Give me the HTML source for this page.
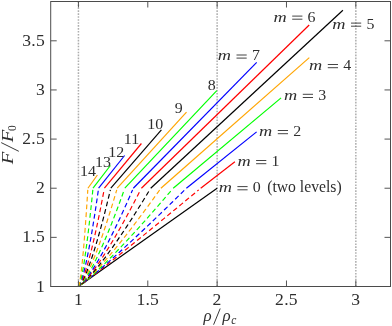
<!DOCTYPE html>
<html><head><meta charset="utf-8"><title>F/F0 vs rho/rho_c</title>
<style>
html,body{margin:0;padding:0;background:#fff;}
svg{display:block;font-family:"Liberation Serif",serif;font-size:17px;fill:#2e2e2e;}
</style></head>
<body>
<svg width="392" height="326" viewBox="0 0 392 326">
<defs><filter id="soft" x="0" y="0" width="392" height="326" filterUnits="userSpaceOnUse"><feGaussianBlur stdDeviation="0.45"/></filter></defs>
<rect x="0" y="0" width="392" height="326" fill="#fff"/>
<g filter="url(#soft)">
<rect x="0" y="0" width="392" height="326" fill="#fff"/>
<g stroke="#adadad" stroke-width="1.5" stroke-dasharray="1.6 1.35" fill="none">
<path d="M78.44 1.5V286.5"/>
<path d="M217.13 1.5V286.5"/>
<path d="M355.83 1.5V286.5"/>
</g>
<g fill="none" stroke-width="1.18" stroke-linecap="butt" stroke-linejoin="round">
<path d="M78.44 286.50L217.13 188.22" stroke="#000"/>
<path d="M78.44 286.50L81.83 284.08L85.07 281.67L88.25 279.25L91.40 276.84L94.53 274.42L97.63 272.01L100.72 269.59L103.79 267.18L106.85 264.76L109.89 262.35L112.93 259.93L115.96 257.52L118.98 255.10L121.99 252.69L125.00 250.27L128.00 247.86L130.99 245.44L133.98 243.03L136.96 240.61L139.94 238.20L142.91 235.78L145.88 233.37L148.84 230.95L151.80 228.54L154.76 226.12L157.71 223.71L160.66 221.29L163.60 218.88L166.54 216.46L169.48 214.05L172.41 211.63L175.34 209.22L178.27 206.80L181.20 204.39L184.12 201.97L187.04 199.56L189.95 197.14L192.87 194.73L195.78 192.31L198.69 189.89" stroke="#ff0000" stroke-dasharray="4.8 3" stroke-dashoffset="3.5"/>
<path d="M200.70 188.22L234.90 161.70" stroke="#ff0000"/>
<path d="M78.44 286.50L82.00 284.08L85.19 281.67L88.24 279.25L91.21 276.84L94.12 274.42L96.98 272.01L99.81 269.59L102.60 267.18L105.37 264.76L108.11 262.35L110.83 259.93L113.53 257.52L116.22 255.10L118.88 252.69L121.53 250.27L124.17 247.86L126.79 245.44L129.41 243.03L132.01 240.61L134.59 238.20L137.17 235.78L139.74 233.37L142.30 230.95L144.85 228.54L147.40 226.12L149.93 223.71L152.46 221.29L154.98 218.88L157.49 216.46L159.99 214.05L162.49 211.63L164.98 209.22L167.47 206.80L169.95 204.39L172.42 201.97L174.89 199.56L177.35 197.14L179.81 194.73L182.26 192.31L184.71 189.89" stroke="#0000ff" stroke-dasharray="4.8 3" stroke-dashoffset="2.2"/>
<path d="M186.40 188.22L256.60 131.90" stroke="#0000ff"/>
<path d="M78.44 286.50L82.07 284.08L85.13 281.67L87.99 279.25L90.75 276.84L93.42 274.42L96.02 272.01L98.58 269.59L101.09 267.18L103.56 264.76L106.00 262.35L108.41 259.93L110.80 257.52L113.16 255.10L115.50 252.69L117.82 250.27L120.12 247.86L122.40 245.44L124.67 243.03L126.92 240.61L129.16 238.20L131.39 235.78L133.60 233.37L135.80 230.95L137.99 228.54L140.16 226.12L142.33 223.71L144.49 221.29L146.64 218.88L148.78 216.46L150.91 214.05L153.03 211.63L155.14 209.22L157.25 206.80L159.34 204.39L161.43 201.97L163.52 199.56L165.59 197.14L167.66 194.73L169.72 192.31L171.78 189.89" stroke="#00ff00" stroke-dasharray="4.8 3" stroke-dashoffset="4.4"/>
<path d="M173.20 188.22L281.10 97.90" stroke="#00ff00"/>
<path d="M78.44 286.50L82.03 284.08L84.89 281.67L87.53 279.25L90.04 276.84L92.45 274.42L94.78 272.01L97.05 269.59L99.28 267.18L101.46 264.76L103.61 262.35L105.72 259.93L107.80 257.52L109.86 255.10L111.89 252.69L113.90 250.27L115.89 247.86L117.86 245.44L119.81 243.03L121.75 240.61L123.67 238.20L125.57 235.78L127.46 233.37L129.34 230.95L131.21 228.54L133.06 226.12L134.90 223.71L136.73 221.29L138.55 218.88L140.36 216.46L142.16 214.05L143.96 211.63L145.74 209.22L147.51 206.80L149.28 204.39L151.04 201.97L152.79 199.56L154.53 197.14L156.26 194.73L157.99 192.31L159.71 189.89" stroke="#ffa500" stroke-dasharray="4.8 3" stroke-dashoffset="3.1"/>
<path d="M160.90 188.22L309.30 57.60" stroke="#ffa500"/>
<path d="M78.44 286.50L81.95 284.08L84.62 281.67L87.04 279.25L89.31 276.84L91.49 274.42L93.58 272.01L95.61 269.59L97.59 267.18L99.52 264.76L101.42 262.35L103.28 259.93L105.11 257.52L106.91 255.10L108.68 252.69L110.43 250.27L112.17 247.86L113.88 245.44L115.57 243.03L117.24 240.61L118.90 238.20L120.55 235.78L122.18 233.37L123.79 230.95L125.40 228.54L126.99 226.12L128.57 223.71L130.14 221.29L131.70 218.88L133.24 216.46L134.78 214.05L136.31 211.63L137.83 209.22L139.34 206.80L140.84 204.39L142.34 201.97L143.82 199.56L145.30 197.14L146.77 194.73L148.24 192.31L149.70 189.89" stroke="#000000" stroke-dasharray="4.8 3" stroke-dashoffset="3.0"/>
<path d="M150.70 188.22L342.90 10.20" stroke="#000000"/>
<path d="M78.44 286.50L81.79 284.08L84.24 281.67L86.43 279.25L88.48 276.84L90.42 274.42L92.28 272.01L94.07 269.59L95.82 267.18L97.51 264.76L99.17 262.35L100.80 259.93L102.39 257.52L103.96 255.10L105.50 252.69L107.02 250.27L108.52 247.86L109.99 245.44L111.45 243.03L112.90 240.61L114.33 238.20L115.74 235.78L117.14 233.37L118.52 230.95L119.90 228.54L121.26 226.12L122.61 223.71L123.95 221.29L125.28 218.88L126.59 216.46L127.90 214.05L129.20 211.63L130.50 209.22L131.78 206.80L133.05 204.39L134.32 201.97L135.58 199.56L136.83 197.14L138.08 194.73L139.32 192.31L140.55 189.89" stroke="#ff0000" stroke-dasharray="4.8 3" stroke-dashoffset="1.2"/>
<path d="M141.40 188.22L309.20 25.00" stroke="#ff0000"/>
<path d="M78.44 286.50L81.60 284.08L83.83 281.67L85.81 279.25L87.63 276.84L89.36 274.42L91.00 272.01L92.59 269.59L94.12 267.18L95.61 264.76L97.06 262.35L98.48 259.93L99.86 257.52L101.23 255.10L102.57 252.69L103.88 250.27L105.18 247.86L106.46 245.44L107.72 243.03L108.96 240.61L110.19 238.20L111.41 235.78L112.61 233.37L113.80 230.95L114.97 228.54L116.14 226.12L117.30 223.71L118.44 221.29L119.58 218.88L120.71 216.46L121.82 214.05L122.93 211.63L124.03 209.22L125.13 206.80L126.21 204.39L127.29 201.97L128.36 199.56L129.43 197.14L130.48 194.73L131.54 192.31L132.58 189.89" stroke="#0000ff" stroke-dasharray="4.8 3" stroke-dashoffset="1.2"/>
<path d="M133.30 188.22L256.70 62.40" stroke="#0000ff"/>
<path d="M78.44 286.50L81.30 284.08L83.26 281.67L84.98 279.25L86.56 276.84L88.04 274.42L89.45 272.01L90.80 269.59L92.10 267.18L93.37 264.76L94.60 262.35L95.79 259.93L96.97 257.52L98.11 255.10L99.24 252.69L100.35 250.27L101.44 247.86L102.51 245.44L103.56 243.03L104.60 240.61L105.63 238.20L106.65 235.78L107.65 233.37L108.64 230.95L109.62 228.54L110.59 226.12L111.56 223.71L112.51 221.29L113.45 218.88L114.39 216.46L115.31 214.05L116.23 211.63L117.14 209.22L118.05 206.80L118.95 204.39L119.84 201.97L120.72 199.56L121.60 197.14L122.48 194.73L123.34 192.31L124.21 189.89" stroke="#00ff00" stroke-dasharray="4.8 3" stroke-dashoffset="0.8"/>
<path d="M124.80 188.22L216.80 90.60" stroke="#00ff00"/>
<path d="M78.44 286.50L80.99 284.08L82.68 281.67L84.16 279.25L85.50 276.84L86.76 274.42L87.95 272.01L89.09 269.59L90.18 267.18L91.24 264.76L92.27 262.35L93.28 259.93L94.26 257.52L95.21 255.10L96.15 252.69L97.07 250.27L97.97 247.86L98.86 245.44L99.74 243.03L100.60 240.61L101.45 238.20L102.29 235.78L103.12 233.37L103.94 230.95L104.75 228.54L105.55 226.12L106.34 223.71L107.12 221.29L107.90 218.88L108.67 216.46L109.43 214.05L110.18 211.63L110.93 209.22L111.67 206.80L112.41 204.39L113.14 201.97L113.87 199.56L114.59 197.14L115.30 194.73L116.01 192.31L116.72 189.89" stroke="#ffa500" stroke-dasharray="4.8 3" stroke-dashoffset="0.3"/>
<path d="M117.20 188.22L186.50 112.20" stroke="#ffa500"/>
<path d="M78.44 286.50L80.70 284.08L82.16 281.67L83.42 279.25L84.56 276.84L85.62 274.42L86.63 272.01L87.58 269.59L88.50 267.18L89.39 264.76L90.25 262.35L91.09 259.93L91.91 257.52L92.70 255.10L93.48 252.69L94.25 250.27L95.00 247.86L95.73 245.44L96.46 243.03L97.17 240.61L97.87 238.20L98.57 235.78L99.25 233.37L99.92 230.95L100.59 228.54L101.25 226.12L101.90 223.71L102.54 221.29L103.18 218.88L103.81 216.46L104.44 214.05L105.06 211.63L105.67 209.22L106.28 206.80L106.88 204.39L107.48 201.97L108.08 199.56L108.66 197.14L109.25 194.73L109.83 192.31L110.40 189.89" stroke="#000000" stroke-dasharray="4.8 3" stroke-dashoffset="0.3"/>
<path d="M110.80 188.22L161.40 129.80" stroke="#000000"/>
<path d="M78.44 286.50L80.36 284.08L81.57 281.67L82.60 279.25L83.53 276.84L84.40 274.42L85.21 272.01L85.98 269.59L86.73 267.18L87.44 264.76L88.13 262.35L88.80 259.93L89.46 257.52L90.09 255.10L90.71 252.69L91.32 250.27L91.92 247.86L92.51 245.44L93.08 243.03L93.65 240.61L94.21 238.20L94.76 235.78L95.30 233.37L95.83 230.95L96.36 228.54L96.88 226.12L97.40 223.71L97.90 221.29L98.41 218.88L98.91 216.46L99.40 214.05L99.89 211.63L100.37 209.22L100.85 206.80L101.32 204.39L101.79 201.97L102.26 199.56L102.72 197.14L103.18 194.73L103.64 192.31L104.09 189.89" stroke="#ff0000" stroke-dasharray="4.8 3" stroke-dashoffset="0.3"/>
<path d="M104.40 188.22L141.40 143.50" stroke="#ff0000"/>
<path d="M78.44 286.50L80.03 284.08L81.00 281.67L81.82 279.25L82.55 276.84L83.23 274.42L83.87 272.01L84.47 269.59L85.05 267.18L85.61 264.76L86.14 262.35L86.66 259.93L87.17 257.52L87.66 255.10L88.14 252.69L88.61 250.27L89.07 247.86L89.52 245.44L89.97 243.03L90.40 240.61L90.83 238.20L91.25 235.78L91.67 233.37L92.08 230.95L92.48 228.54L92.88 226.12L93.27 223.71L93.66 221.29L94.04 218.88L94.42 216.46L94.80 214.05L95.17 211.63L95.54 209.22L95.90 206.80L96.26 204.39L96.62 201.97L96.98 199.56L97.33 197.14L97.68 194.73L98.02 192.31L98.36 189.89" stroke="#0000ff" stroke-dasharray="4.8 3" stroke-dashoffset="0.3"/>
<path d="M98.60 188.22L124.60 155.50" stroke="#0000ff"/>
<path d="M78.44 286.50L79.67 284.08L80.39 281.67L81.00 279.25L81.54 276.84L82.03 274.42L82.50 272.01L82.94 269.59L83.36 267.18L83.76 264.76L84.15 262.35L84.52 259.93L84.89 257.52L85.24 255.10L85.58 252.69L85.92 250.27L86.25 247.86L86.57 245.44L86.89 243.03L87.20 240.61L87.50 238.20L87.80 235.78L88.10 233.37L88.39 230.95L88.68 228.54L88.96 226.12L89.24 223.71L89.51 221.29L89.79 218.88L90.05 216.46L90.32 214.05L90.58 211.63L90.84 209.22L91.10 206.80L91.36 204.39L91.61 201.97L91.86 199.56L92.10 197.14L92.35 194.73L92.59 192.31L92.83 189.89" stroke="#00ff00" stroke-dasharray="4.8 3" stroke-dashoffset="0.3"/>
<path d="M93.00 188.22L110.40 165.50" stroke="#00ff00"/>
<path d="M78.44 286.50L79.30 284.08L79.79 281.67L80.19 279.25L80.55 276.84L80.88 274.42L81.18 272.01L81.47 269.59L81.74 267.18L82.01 264.76L82.26 262.35L82.50 259.93L82.73 257.52L82.96 255.10L83.18 252.69L83.40 250.27L83.61 247.86L83.82 245.44L84.02 243.03L84.22 240.61L84.42 238.20L84.61 235.78L84.80 233.37L84.98 230.95L85.16 228.54L85.34 226.12L85.52 223.71L85.70 221.29L85.87 218.88L86.04 216.46L86.21 214.05L86.37 211.63L86.54 209.22L86.70 206.80L86.86 204.39L87.02 201.97L87.18 199.56L87.34 197.14L87.49 194.73L87.64 192.31L87.80 189.89" stroke="#ffa500" stroke-dasharray="4.8 3" stroke-dashoffset="0.3"/>
<path d="M87.90 188.22L97.40 175.00" stroke="#ffa500"/>
</g>
<g stroke="#4c4c4c" stroke-width="1" fill="none">
<rect x="50.7" y="1.5" width="339.80" height="285.00"/>
</g>
<g stroke="#4c4c4c" stroke-width="0.95" fill="none">
<path d="M78.44 286.5v-6M78.44 1.5v6"/>
<path d="M147.79 286.5v-6M147.79 1.5v6"/>
<path d="M217.13 286.5v-6M217.13 1.5v6"/>
<path d="M286.48 286.5v-6M286.48 1.5v6"/>
<path d="M355.83 286.5v-6M355.83 1.5v6"/>
<path d="M50.7 286.50h6M390.5 286.50h-6"/>
<path d="M50.7 237.36h6M390.5 237.36h-6"/>
<path d="M50.7 188.22h6M390.5 188.22h-6"/>
<path d="M50.7 139.09h6M390.5 139.09h-6"/>
<path d="M50.7 89.95h6M390.5 89.95h-6"/>
<path d="M50.7 40.81h6M390.5 40.81h-6"/>
</g>
<g>
<text x="78.44" y="304.6" text-anchor="middle" font-size="17.6" letter-spacing="0.25">1</text>
<text x="147.79" y="304.6" text-anchor="middle" font-size="17.6" letter-spacing="0.25">1.5</text>
<text x="217.13" y="304.6" text-anchor="middle" font-size="17.6" letter-spacing="0.25">2</text>
<text x="286.48" y="304.6" text-anchor="middle" font-size="17.6" letter-spacing="0.25">2.5</text>
<text x="355.83" y="304.6" text-anchor="middle" font-size="17.6" letter-spacing="0.25">3</text>
<text x="45.0" y="291.50" text-anchor="end" font-size="17.6" letter-spacing="0.25">1</text>
<text x="45.0" y="242.36" text-anchor="end" font-size="17.6" letter-spacing="0.25">1.5</text>
<text x="45.0" y="193.22" text-anchor="end" font-size="17.6" letter-spacing="0.25">2</text>
<text x="45.0" y="144.09" text-anchor="end" font-size="17.6" letter-spacing="0.25">2.5</text>
<text x="45.0" y="94.95" text-anchor="end" font-size="17.6" letter-spacing="0.25">3</text>
<text x="45.0" y="45.81" text-anchor="end" font-size="17.6" letter-spacing="0.25">3.5</text>
</g>
<g>
<text transform="translate(273.5 21.5) scale(1.22 1)" font-style="italic" font-size="15">m</text><path d="M292.2 16.1h10.2M292.2 19.2h10.2" stroke="#222" stroke-width="0.85" fill="none"/><text transform="translate(311.6 21.5) scale(1.1 1)" text-anchor="middle" font-size="14.5">6</text>
<text transform="translate(332.3 28.5) scale(1.22 1)" font-style="italic" font-size="15">m</text><path d="M351.0 23.1h10.2M351.0 26.2h10.2" stroke="#222" stroke-width="0.85" fill="none"/><text transform="translate(370.4 28.5) scale(1.1 1)" text-anchor="middle" font-size="14.5">5</text>
<text transform="translate(309.1 69.9) scale(1.22 1)" font-style="italic" font-size="15">m</text><path d="M327.8 64.5h10.2M327.8 67.7h10.2" stroke="#222" stroke-width="0.85" fill="none"/><text transform="translate(347.2 69.9) scale(1.1 1)" text-anchor="middle" font-size="14.5">4</text>
<text transform="translate(284.1 99.7) scale(1.22 1)" font-style="italic" font-size="15">m</text><path d="M302.8 94.3h10.2M302.8 97.5h10.2" stroke="#222" stroke-width="0.85" fill="none"/><text transform="translate(322.2 99.7) scale(1.1 1)" text-anchor="middle" font-size="14.5">3</text>
<text transform="translate(259.1 135.9) scale(1.22 1)" font-style="italic" font-size="15">m</text><path d="M277.8 130.5h10.2M277.8 133.7h10.2" stroke="#222" stroke-width="0.85" fill="none"/><text transform="translate(297.2 135.9) scale(1.1 1)" text-anchor="middle" font-size="14.5">2</text>
<text transform="translate(237.4 165.9) scale(1.22 1)" font-style="italic" font-size="15">m</text><path d="M256.1 160.5h10.2M256.1 163.7h10.2" stroke="#222" stroke-width="0.85" fill="none"/><text transform="translate(275.5 165.9) scale(1.1 1)" text-anchor="middle" font-size="14.5">1</text>
<text transform="translate(217.8 60.4) scale(1.22 1)" font-style="italic" font-size="15">m</text><path d="M236.5 55.0h10.2M236.5 58.1h10.2" stroke="#222" stroke-width="0.85" fill="none"/><text transform="translate(255.9 60.4) scale(1.1 1)" text-anchor="middle" font-size="14.5">7</text>
<text transform="translate(218.7 192.0) scale(1.22 1)" font-style="italic" font-size="15">m</text><path d="M237.4 186.6h10.2M237.4 189.8h10.2" stroke="#222" stroke-width="0.85" fill="none"/><text transform="translate(256.8 192.0) scale(1.1 1)" text-anchor="middle" font-size="14.5">0</text>
<text x="267.2" y="192.0" font-size="15.7">(two levels)</text>
<text transform="translate(211.8 89.7) scale(1.1 1)" text-anchor="middle" font-size="14.5">8</text>
<text transform="translate(178.75 112.8) scale(1.1 1)" text-anchor="middle" font-size="14.5">9</text>
<text transform="translate(155.2 129.2) scale(1.1 1)" text-anchor="middle" font-size="14.5">10</text>
<text transform="translate(131.45 143.9) scale(1.1 1)" text-anchor="middle" font-size="14.5">11</text>
<text transform="translate(116.2 156.8) scale(1.1 1)" text-anchor="middle" font-size="14.5">12</text>
<text transform="translate(102.95 166.8) scale(1.1 1)" text-anchor="middle" font-size="14.5">13</text>
<text transform="translate(87.9 176.0) scale(1.1 1)" text-anchor="middle" font-size="14.5">14</text>
</g>
<g font-style="italic">
<text x="203.6" y="321">ρ</text>
<text x="222.6" y="321">ρ</text>
<text x="231.2" y="323.6" font-size="11.5">c</text>
</g>
<path d="M213.6 324.7L220.2 308.5" stroke="#222" stroke-width="0.9" fill="none"/>
<g transform="translate(12.9 164.3) rotate(-90)">
<text transform="scale(1.2 1)" x="0" y="0" font-style="italic">F</text>
<text transform="translate(22 0) scale(1.2 1)" x="0" y="0" font-style="italic">F</text>
<text x="33.4" y="3.4" font-size="11.5">0</text>
</g>
<path d="M1.2 142.6L18.8 151.3" stroke="#222" stroke-width="0.9" fill="none"/>
</g>
</svg>
</body></html>
